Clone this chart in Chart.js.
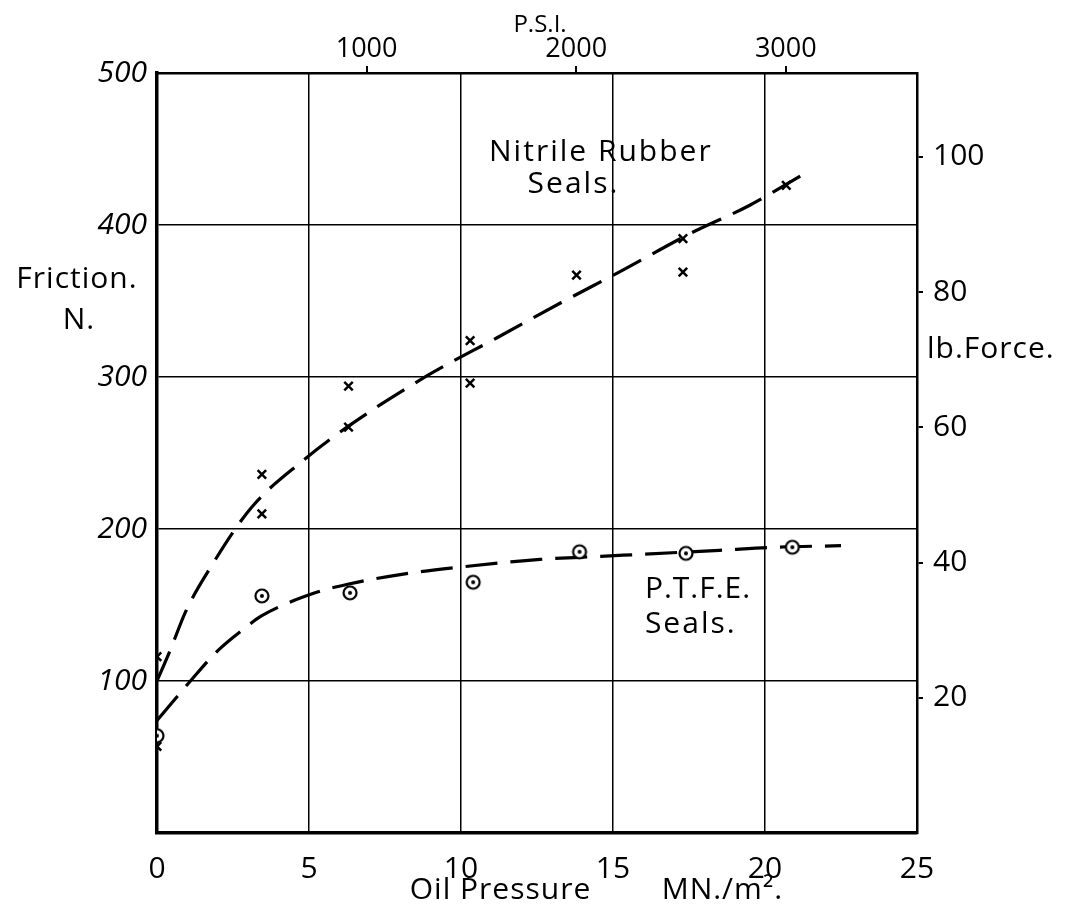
<!DOCTYPE html>
<html><head><meta charset="utf-8">
<script src="https://cdn.jsdelivr.net/npm/chart.js@4.4.1/dist/chart.umd.min.js"></script>
<style>html,body{margin:0;padding:0;background:#fff}#wrap{width:1084px;height:910px}</style>
</head><body><div id="wrap"><canvas id="c" width="1084" height="910"></canvas></div>
<script>
// Measured points (oil pressure MN/m², friction N)
const nitrileX = [0, 0, 3.45, 3.45, 6.3, 6.3, 10.3, 10.3, 13.8, 17.3, 17.3, 20.7];
const nitrileY = [116, 57, 236, 210, 294, 267, 324, 296, 367, 391, 369, 426];
const ptfeX = [0, 3.45, 6.35, 10.4, 13.9, 17.4, 20.9];
const ptfeY = [64, 156, 158, 165, 185, 184, 188];
// Hand-drawn dashed curves
const nitrileFitX = [0, 0.43, 0.95, 1.8, 3.1, 4.8, 6.25, 8.9, 11.2, 13.3, 15.2, 17.6, 19.5, 21.4];
const nitrileFitY = [100, 120, 146, 176, 214, 245, 267, 301, 326, 349, 369, 395, 413, 435];
const ptfeFitX = [0, 1.1, 2.0, 2.9, 3.45, 5.2, 6.35, 8, 10, 12.6, 14.6, 18.5, 20.3, 22.5];
const ptfeFitY = [74, 100, 120, 135, 143, 158, 164, 170, 175, 180, 182, 186, 188, 189];
// Tick labels
const xTicks = [0, 5, 10, 15, 20, 25];
const yTicks = [100, 200, 300, 400, 500];
const psiTicks = [1000, 2000, 3000];
const lbfTicks = [20, 40, 60, 80, 100];
const PSI_PER_MPA = 145.038;
const N_PER_LBF = 4.44822;

const FONT = '"Open Sans", "DejaVu Sans", sans-serif';
const toPts = (xs, ys) => xs.map((x, i) => ({x, y: ys[i]}));
const plain = v => String(v);

const ringDot = (() => {
  const c = document.createElement('canvas'); c.width = 18; c.height = 18;
  const g = c.getContext('2d');
  g.lineWidth = 2.2; g.strokeStyle = '#000'; g.fillStyle = '#fff';
  g.beginPath(); g.arc(9, 9, 6.5, 0, Math.PI * 2); g.fill(); g.stroke();
  g.fillStyle = '#000'; g.beginPath(); g.arc(9, 9, 2, 0, Math.PI * 2); g.fill();
  return c;
})();

const labelPlugin = {
  id: 'labels',
  afterDraw(chart) {
    const {ctx, chartArea: ca, scales: {x, y}} = chart;
    ctx.save();
    ctx.fillStyle = '#000';
    ctx.textBaseline = 'middle';
    const put = (t, px, py, align, size, sp) => {
      ctx.font = `${size}px ${FONT}`;
      ctx.letterSpacing = (sp || 0) + 'px';
      ctx.textAlign = align;
      ctx.fillText(t, px, py);
    };
    put('Nitrile Rubber', x.getPixelForValue(14.6), y.getPixelForValue(448), 'center', 30, 2);
    put('Seals.', x.getPixelForValue(13.7), y.getPixelForValue(427), 'center', 30, 2);
    put('P.T.F.E.', x.getPixelForValue(16.05), y.getPixelForValue(160), 'left', 30, 1);
    put('Seals.', x.getPixelForValue(16.05), y.getPixelForValue(137), 'left', 30, 2);
    put('Friction.', ca.left - 80, y.getPixelForValue(364), 'center', 30, 1);
    put('N.', ca.left - 78, y.getPixelForValue(337), 'center', 30, 1);
    put('lb.Force.', ca.right + 10, y.getPixelForValue(318), 'left', 30, 1);
    put('P.S.I.', x.getPixelForValue(12.6), ca.top - 48, 'center', 24, 0);
    put('Oil Pressure', x.getPixelForValue(11.3), ca.bottom + 57, 'center', 30, 1);
    put('MN./m².', x.getPixelForValue(18.6), ca.bottom + 57, 'center', 30, 1);
    ctx.restore();
  }
};

const keepOnly = list => s => { s.ticks = list.map(v => ({value: v})); };

new Chart(document.getElementById('c'), {
  type: 'scatter',
  data: {
    datasets: [
      {data: toPts(nitrileX, nitrileY), pointStyle: 'crossRot', pointRadius: 6, borderColor: '#000', borderWidth: 2.5, showLine: false},
      {data: toPts(ptfeX, ptfeY), pointStyle: ringDot, pointRadius: 7, showLine: false},
      {data: toPts(nitrileFitX, nitrileFitY), showLine: true, pointRadius: 0, borderColor: '#000', borderWidth: 3.2, borderDash: [32, 13], cubicInterpolationMode: 'monotone'},
      {data: toPts(ptfeFitX, ptfeFitY), showLine: true, pointRadius: 0, borderColor: '#000', borderWidth: 3.2, borderDash: [32, 13], cubicInterpolationMode: 'monotone'}
    ]
  },
  options: {
    responsive: false, devicePixelRatio: 1, animation: false,
    layout: {padding: 0},
    plugins: {legend: {display: false}, tooltip: {enabled: false}},
    scales: {
      x: {
        type: 'linear', position: 'bottom', min: 0, max: 25,
        afterBuildTicks: keepOnly(xTicks),
        ticks: {color: '#000', font: {family: FONT, size: 30}, padding: 18, maxRotation: 0, callback: plain},
        grid: {color: '#000', lineWidth: 1.5, drawTicks: false},
        border: {color: '#000', width: 3.5},
        afterFit: s => { s.height = 77; }
      },
      x2: {
        type: 'linear', position: 'top', min: 0, max: 25 * PSI_PER_MPA,
        afterBuildTicks: keepOnly(psiTicks),
        ticks: {color: '#000', font: {family: FONT, size: 27}, padding: 0, maxRotation: 0, callback: plain},
        grid: {drawOnChartArea: false, color: '#000', lineWidth: 2, tickLength: 7},
        border: {color: '#000', width: 2.5},
        afterFit: s => { s.height = 73; }
      },
      y: {
        type: 'linear', position: 'left', min: 0, max: 500,
        afterBuildTicks: keepOnly(yTicks),
        ticks: {color: '#000', font: {family: FONT, size: 30, style: 'italic'}, padding: 10, callback: plain},
        grid: {color: '#000', lineWidth: 1.5, drawTicks: false},
        border: {color: '#000', width: 3.5},
        afterFit: s => { s.width = 157; }
      },
      y2: {
        type: 'linear', position: 'right', min: 0, max: 500 / N_PER_LBF,
        afterBuildTicks: keepOnly(lbfTicks),
        ticks: {color: '#000', font: {family: FONT, size: 30}, padding: 10, callback: plain},
        grid: {drawOnChartArea: false, color: '#000', lineWidth: 2, tickLength: 6},
        border: {color: '#000', width: 2.5},
        afterFit: s => { s.width = 167; }
      }
    }
  },
  plugins: [labelPlugin]
});
</script></body></html>
